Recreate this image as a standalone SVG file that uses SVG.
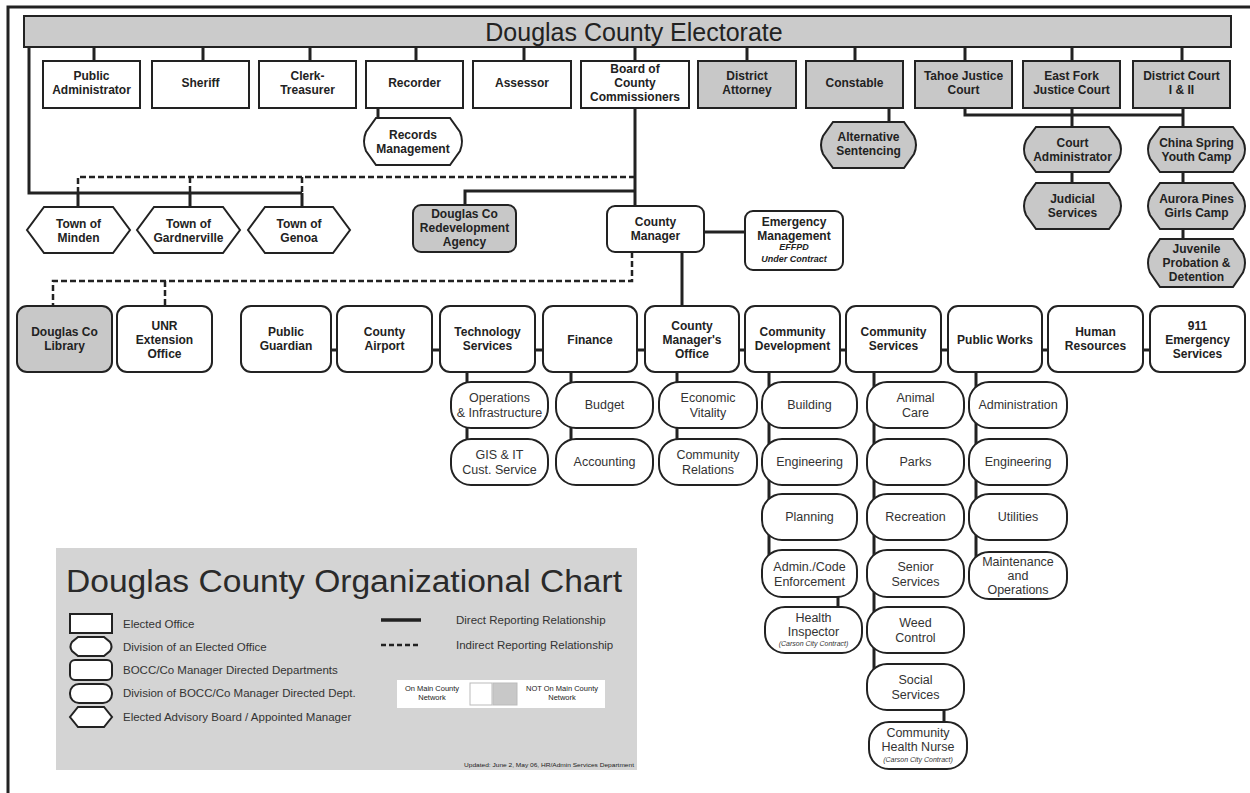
<svg xmlns="http://www.w3.org/2000/svg" width="1250" height="793" viewBox="0 0 1250 793">
<style>
.bx{fill:#fff;stroke:#222;stroke-width:2}
.gr{fill:#c8c8c8}
.c{fill:none;stroke:#222;stroke-width:3}
.d{fill:none;stroke:#222;stroke-width:2.5;stroke-dasharray:6 3}
text{font-family:"Liberation Sans",Arial,sans-serif;fill:#222;text-anchor:middle}
.b{font-size:12px;font-weight:bold}
.r{font-size:12.5px;fill:#333}
.i{font-size:9px;font-style:italic;font-weight:bold}
.s{font-size:7px;font-style:italic;fill:#333}
.l{font-size:11.5px;text-anchor:start;fill:#333}
.ttl{font-size:31px;text-anchor:start;fill:#2a2a2a}
</style>
<rect width="1250" height="793" fill="#fff"/>
<path d="M8,793 V7 H1250" fill="none" stroke="#222" stroke-width="3"/>

<g id="connectors">
<path class="c" d="M94,47V61 M203,47V61 M310,47V61 M416,47V61 M524,47V61 M635,47V61 M747,47V61 M855,47V61 M965,47V61 M1072,47V61 M1182,47V61"/>
<path class="c" stroke-width="4" d="M29,47 V193 H302 M78,193 V207 M190,193 V207 M302,193 V207"/>
<path class="d" d="M78,193 V177 H634 M190,177 V193 M302,177 V193"/>
<path class="c" d="M378,108 V118"/>
<path class="c" d="M635,108 V206 M635,191 H465 V205"/>
<path class="c" d="M889,108 V122"/>
<path class="c" d="M965,108 V115 H1183 M1072,108 V183 M1183,108 V239"/>
<path class="c" d="M704,232 H745 M682,252 V306"/>
<path class="d" d="M632,252 V281 H53 V306 M165,281 V306"/>
<path class="c" d="M331,350 H1150"/>
<path class="c" d="M467,372 V440 M571,372 V440 M677,372 V440 M769,372 V575 M874,372 V687 M976,372 V575 M838,597 V607 M944,710 V722"/>
</g>

<g id="electorate"><rect x="24" y="16" width="1207" height="31" fill="#cbcbcb" stroke="#222" stroke-width="2"/><text x="634" y="41" font-size="25">Douglas County Electorate</text></g>

<g id="public-administrator"><rect class="bx" x="43" y="61" width="97" height="47"/><text class="b" x="91.5" y="80">Public</text><text class="b" x="91.5" y="94">Administrator</text></g>
<g id="sheriff"><rect class="bx" x="152" y="61" width="97" height="47"/><text class="b" x="200.5" y="87">Sheriff</text></g>
<g id="clerk-treasurer"><rect class="bx" x="259" y="61" width="97" height="47"/><text class="b" x="307.5" y="80">Clerk-</text><text class="b" x="307.5" y="94">Treasurer</text></g>
<g id="recorder"><rect class="bx" x="366" y="61" width="97" height="47"/><text class="b" x="414.5" y="87">Recorder</text></g>
<g id="assessor"><rect class="bx" x="473" y="61" width="98" height="47"/><text class="b" x="522" y="87">Assessor</text></g>
<g id="board"><rect class="bx" x="581" y="61" width="108" height="47"/><text class="b" x="635" y="73">Board of</text><text class="b" x="635" y="87">County</text><text class="b" x="635" y="101">Commissioners</text></g>
<g id="district-attorney"><rect class="bx gr" x="698" y="61" width="98" height="47"/><text class="b" x="747" y="80">District</text><text class="b" x="747" y="94">Attorney</text></g>
<g id="constable"><rect class="bx gr" x="806" y="61" width="97" height="47"/><text class="b" x="854.5" y="87">Constable</text></g>
<g id="tahoe-justice"><rect class="bx gr" x="915" y="61" width="97" height="47"/><text class="b" x="963.5" y="80">Tahoe Justice</text><text class="b" x="963.5" y="94">Court</text></g>
<g id="east-fork-justice"><rect class="bx gr" x="1023" y="61" width="97" height="47"/><text class="b" x="1071.5" y="80">East Fork</text><text class="b" x="1071.5" y="94">Justice Court</text></g>
<g id="district-court"><rect class="bx gr" x="1133" y="61" width="97" height="47"/><text class="b" x="1181.5" y="80">District Court</text><text class="b" x="1181.5" y="94">I &amp; II</text></g>

<g id="records-management"><path class="bx" d="M376,118 H450 L460,132 Q464,141.5 460,151 L450,165 H376 L366,151 Q362,141.5 366,132 Z"/><text class="b" x="413" y="139">Records</text><text class="b" x="413" y="153">Management</text></g>
<g id="alternative-sentencing"><path class="bx gr" d="M833,122 H904 L914,136 Q918,145 914,154 L904,168 H833 L823,154 Q819,145 823,136 Z"/><text class="b" x="868.5" y="141">Alternative</text><text class="b" x="868.5" y="155">Sentencing</text></g>
<g id="court-administrator"><path class="bx gr" d="M1036,127 H1109 L1119,140.5 Q1123,149.5 1119,158.5 L1109,172 H1036 L1026,158.5 Q1022,149.5 1026,140.5 Z"/><text class="b" x="1072.5" y="147">Court</text><text class="b" x="1072.5" y="161">Administrator</text></g>
<g id="judicial-services"><path class="bx gr" d="M1036,183 H1109 L1119,197 Q1123,206 1119,215 L1109,229 H1036 L1026,215 Q1022,206 1026,197 Z"/><text class="b" x="1072.5" y="203">Judicial</text><text class="b" x="1072.5" y="217">Services</text></g>
<g id="china-spring"><path class="bx gr" d="M1160,127 H1233 L1243,140.5 Q1247,149.5 1243,158.5 L1233,172 H1160 L1150,158.5 Q1146,149.5 1150,140.5 Z"/><text class="b" x="1196.5" y="147">China Spring</text><text class="b" x="1196.5" y="161">Youth Camp</text></g>
<g id="aurora-pines"><path class="bx gr" d="M1160,183 H1233 L1243,197 Q1247,206 1243,215 L1233,229 H1160 L1150,215 Q1146,206 1150,197 Z"/><text class="b" x="1196.5" y="203">Aurora Pines</text><text class="b" x="1196.5" y="217">Girls Camp</text></g>
<g id="juvenile-probation"><path class="bx gr" d="M1160,239 H1233 L1243,253.4 Q1247,263 1243,272.6 L1233,287 H1160 L1150,272.6 Q1146,263 1150,253.4 Z"/><text class="b" x="1196.5" y="253">Juvenile</text><text class="b" x="1196.5" y="267">Probation &amp;</text><text class="b" x="1196.5" y="281">Detention</text></g>

<g id="town-minden"><path class="bx" d="M44,207 H113 L130,230 L113,253 H44 L27,230 Z"/><text class="b" x="78.5" y="228">Town of</text><text class="b" x="78.5" y="242">Minden</text></g>
<g id="town-gardnerville"><path class="bx" d="M154,207 H223 L240,230 L223,253 H154 L137,230 Z"/><text class="b" x="188.5" y="228">Town of</text><text class="b" x="188.5" y="242">Gardnerville</text></g>
<g id="town-genoa"><path class="bx" d="M265,207 H333 L350,230 L333,253 H265 L248,230 Z"/><text class="b" x="299" y="228">Town of</text><text class="b" x="299" y="242">Genoa</text></g>

<g id="redevelopment"><rect class="bx gr" x="413" y="205" width="103" height="47" rx="8"/><text class="b" x="464.5" y="218">Douglas Co</text><text class="b" x="464.5" y="232">Redevelopment</text><text class="b" x="464.5" y="246">Agency</text></g>
<g id="county-manager"><rect class="bx" x="607" y="206" width="97" height="46" rx="8"/><text class="b" x="655.5" y="226">County</text><text class="b" x="655.5" y="240">Manager</text></g>
<g id="emergency-management"><rect class="bx" x="745" y="211" width="98" height="59" rx="8"/><text class="b" x="794" y="226">Emergency</text><text class="b" x="794" y="240">Management</text><text class="i" x="794" y="250">EFFPD</text><text class="i" x="794" y="262">Under Contract</text></g>

<g id="library"><rect class="bx gr" x="17" y="306" width="95" height="66" rx="10"/><text class="b" x="64.5" y="336">Douglas Co</text><text class="b" x="64.5" y="350">Library</text></g>
<g id="unr-extension"><rect class="bx" x="117" y="306" width="95" height="66" rx="10"/><text class="b" x="164.5" y="330">UNR</text><text class="b" x="164.5" y="344">Extension</text><text class="b" x="164.5" y="358">Office</text></g>
<g id="public-guardian"><rect class="bx" x="241" y="306" width="90" height="66" rx="10"/><text class="b" x="286" y="336">Public</text><text class="b" x="286" y="350">Guardian</text></g>
<g id="county-airport"><rect class="bx" x="337" y="306" width="95" height="66" rx="10"/><text class="b" x="384.5" y="336">County</text><text class="b" x="384.5" y="350">Airport</text></g>
<g id="technology-services"><rect class="bx" x="440" y="306" width="95" height="66" rx="10"/><text class="b" x="487.5" y="336">Technology</text><text class="b" x="487.5" y="350">Services</text></g>
<g id="finance"><rect class="bx" x="543" y="306" width="94" height="66" rx="10"/><text class="b" x="590" y="344">Finance</text></g>
<g id="county-managers-office"><rect class="bx" x="645" y="306" width="94" height="66" rx="10"/><text class="b" x="692" y="330">County</text><text class="b" x="692" y="344">Manager's</text><text class="b" x="692" y="358">Office</text></g>
<g id="community-development"><rect class="bx" x="745" y="306" width="95" height="66" rx="10"/><text class="b" x="792.5" y="336">Community</text><text class="b" x="792.5" y="350">Development</text></g>
<g id="community-services"><rect class="bx" x="846" y="306" width="95" height="66" rx="10"/><text class="b" x="893.5" y="336">Community</text><text class="b" x="893.5" y="350">Services</text></g>
<g id="public-works"><rect class="bx" x="948" y="306" width="94" height="66" rx="10"/><text class="b" x="995" y="344">Public Works</text></g>
<g id="human-resources"><rect class="bx" x="1048" y="306" width="95" height="66" rx="10"/><text class="b" x="1095.5" y="336">Human</text><text class="b" x="1095.5" y="350">Resources</text></g>
<g id="emergency-911"><rect class="bx" x="1150" y="306" width="95" height="66" rx="10"/><text class="b" x="1197.5" y="330">911</text><text class="b" x="1197.5" y="344">Emergency</text><text class="b" x="1197.5" y="358">Services</text></g>

<g id="operations-infrastructure"><rect class="bx" x="451" y="382" width="97" height="46" rx="20"/><text class="r" x="499.5" y="402">Operations</text><text class="r" x="499.5" y="417">&amp; Infrastructure</text></g>
<g id="gis-it"><rect class="bx" x="451" y="439" width="97" height="46" rx="20"/><text class="r" x="499.5" y="459">GIS &amp; IT</text><text class="r" x="499.5" y="474">Cust. Service</text></g>
<g id="budget"><rect class="bx" x="556" y="382" width="97" height="46" rx="20"/><text class="r" x="604.5" y="409">Budget</text></g>
<g id="accounting"><rect class="bx" x="556" y="439" width="97" height="46" rx="20"/><text class="r" x="604.5" y="466">Accounting</text></g>
<g id="economic-vitality"><rect class="bx" x="659" y="382" width="98" height="46" rx="20"/><text class="r" x="708" y="402">Economic</text><text class="r" x="708" y="417">Vitality</text></g>
<g id="community-relations"><rect class="bx" x="659" y="439" width="98" height="46" rx="20"/><text class="r" x="708" y="459">Community</text><text class="r" x="708" y="474">Relations</text></g>

<g id="building"><rect class="bx" x="762" y="382" width="95" height="46" rx="20"/><text class="r" x="809.5" y="409">Building</text></g>
<g id="cd-engineering"><rect class="bx" x="762" y="439" width="95" height="46" rx="20"/><text class="r" x="809.5" y="466">Engineering</text></g>
<g id="planning"><rect class="bx" x="762" y="494" width="95" height="46" rx="20"/><text class="r" x="809.5" y="521">Planning</text></g>
<g id="admin-code"><rect class="bx" x="762" y="550" width="95" height="47" rx="20"/><text class="r" x="809.5" y="571">Admin./Code</text><text class="r" x="809.5" y="586">Enforcement</text></g>
<g id="health-inspector"><rect class="bx" x="765" y="607" width="97" height="46" rx="20"/><text class="r" x="813.5" y="622">Health</text><text class="r" x="813.5" y="636">Inspector</text><text class="s" x="813.5" y="646">(Carson City Contract)</text></g>

<g id="animal-care"><rect class="bx" x="867" y="382" width="97" height="46" rx="20"/><text class="r" x="915.5" y="402">Animal</text><text class="r" x="915.5" y="417">Care</text></g>
<g id="parks"><rect class="bx" x="867" y="439" width="97" height="46" rx="20"/><text class="r" x="915.5" y="466">Parks</text></g>
<g id="recreation"><rect class="bx" x="867" y="494" width="97" height="46" rx="20"/><text class="r" x="915.5" y="521">Recreation</text></g>
<g id="senior-services"><rect class="bx" x="867" y="550" width="97" height="47" rx="20"/><text class="r" x="915.5" y="571">Senior</text><text class="r" x="915.5" y="586">Services</text></g>
<g id="weed-control"><rect class="bx" x="867" y="607" width="97" height="46" rx="20"/><text class="r" x="915.5" y="627">Weed</text><text class="r" x="915.5" y="642">Control</text></g>
<g id="social-services"><rect class="bx" x="867" y="664" width="97" height="46" rx="20"/><text class="r" x="915.5" y="684">Social</text><text class="r" x="915.5" y="699">Services</text></g>
<g id="community-health-nurse"><rect class="bx" x="869" y="722" width="98" height="47" rx="20"/><text class="r" x="918" y="737">Community</text><text class="r" x="918" y="751">Health Nurse</text><text class="s" x="918" y="762">(Carson City Contract)</text></g>

<g id="pw-administration"><rect class="bx" x="969" y="382" width="98" height="46" rx="20"/><text class="r" x="1018" y="409">Administration</text></g>
<g id="pw-engineering"><rect class="bx" x="969" y="439" width="98" height="46" rx="20"/><text class="r" x="1018" y="466">Engineering</text></g>
<g id="utilities"><rect class="bx" x="969" y="494" width="98" height="46" rx="20"/><text class="r" x="1018" y="521">Utilities</text></g>
<g id="maintenance-operations"><rect class="bx" x="969" y="552" width="98" height="47" rx="20"/><text class="r" x="1018" y="566">Maintenance</text><text class="r" x="1018" y="580">and</text><text class="r" x="1018" y="594">Operations</text></g>

<g id="legend">
<rect x="56" y="548" width="581" height="222" fill="#d4d4d4"/>
<text class="ttl" x="66" y="592" textLength="556" lengthAdjust="spacingAndGlyphs">Douglas County Organizational Chart</text>
<rect class="bx" x="70" y="614" width="42" height="19"/>
<path class="bx" d="M78,637 H104 L110,642 Q113,646.5 110,651 L104,656 H78 L72,651 Q69,646.5 72,642 Z"/>
<rect class="bx" x="70" y="660" width="42" height="20" rx="5"/>
<rect class="bx" x="70" y="684" width="42" height="19" rx="9"/>
<path class="bx" d="M78,707 H104 L112,717 L104,727 H78 L70,717 Z"/>
<text class="l" x="123" y="628">Elected Office</text>
<text class="l" x="123" y="651">Division of an Elected Office</text>
<text class="l" x="123" y="674">BOCC/Co Manager Directed Departments</text>
<text class="l" x="123" y="697">Division of BOCC/Co Manager Directed Dept.</text>
<text class="l" x="123" y="721">Elected Advisory Board / Appointed Manager</text>
<path d="M381,620 H421" stroke="#222" stroke-width="3.5"/>
<path d="M381,645 H421" stroke="#222" stroke-width="2.5" stroke-dasharray="5 3"/>
<text class="l" x="456" y="624">Direct Reporting Relationship</text>
<text class="l" x="456" y="649">Indirect Reporting Relationship</text>
<rect x="397" y="680" width="208" height="28" fill="#fff"/>
<rect x="470" y="683" width="22" height="22" fill="#fff" stroke="#bbb"/>
<rect x="493" y="683" width="24" height="22" fill="#c8c8c8" stroke="#bbb"/>
<text x="432" y="691" font-size="7.5">On Main County</text>
<text x="432" y="700" font-size="7.5">Network</text>
<text x="562" y="691" font-size="7.5">NOT On Main County</text>
<text x="562" y="700" font-size="7.5">Network</text>
<text x="549" y="767" font-size="6" fill="#555" textLength="170" lengthAdjust="spacingAndGlyphs">Updated: June 2, May 06, HR/Admin Services Department</text>
</g>
</svg>
